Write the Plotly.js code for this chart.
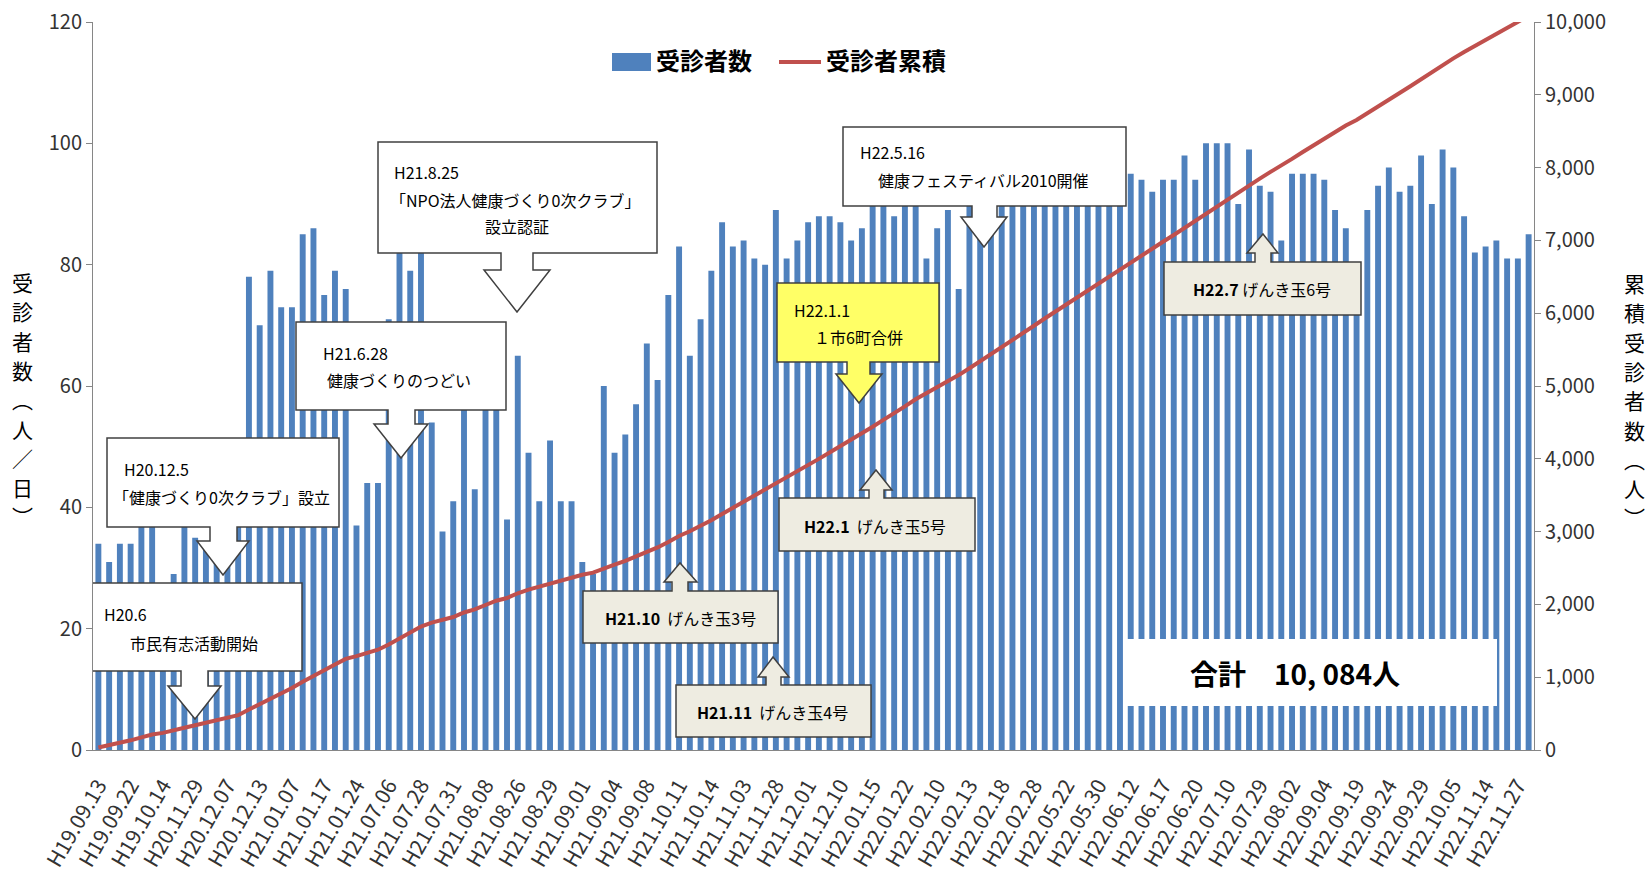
<!DOCTYPE html>
<html>
<head>
<meta charset="utf-8">
<script src="https://cdn.plot.ly/plotly-3.0.1.min.js"></script>
<style>
  html, body { margin: 0; padding: 0; background: #fff; }
  #chart { width: 1648px; height: 876px; }
</style>
</head>
<body>
<div id="chart"></div>
<script>
// ---- data ----
const tickLabels = [
  "H19.09.13","H19.09.22","H19.10.14","H20.11.29","H20.12.07","H20.12.13",
  "H21.01.07","H21.01.17","H21.01.24","H21.07.06","H21.07.28","H21.07.31",
  "H21.08.08","H21.08.26","H21.08.29","H21.09.01","H21.09.04","H21.09.08",
  "H21.10.11","H21.10.14","H21.11.03","H21.11.28","H21.12.01","H21.12.10",
  "H22.01.15","H22.01.22","H22.02.10","H22.02.13","H22.02.18","H22.02.28",
  "H22.05.22","H22.05.30","H22.06.12","H22.06.17","H22.06.20","H22.07.10",
  "H22.07.29","H22.08.02","H22.09.04","H22.09.19","H22.09.24","H22.09.29",
  "H22.10.05","H22.11.14","H22.11.27"
];

// 受診者数 (人/日), one value per session day
const visitors = [
  34,31,34,34,40,40,22,29,42,35,34,33,32,38,
  78,70,79,73,73,85,86,75,79,76,
  37,44,44,71,85,79,84,
  54,36,41,62,43,60,58,38,65,49,41,51,41,41,31,
  29,60,49,52,57,67,61,75,83,65,71,79,87,83,
  84,81,80,89,81,84,87,88,88,87,
  84,86,96,95,88,97,98,81,86,89,76,94,95,96,98,97,99,98,100,97,96,98,99,97,95,97,
  95,94,92,94,94,98,94,100,100,100,90,99,93,92,84,95,95,95,94,89,86,75,89,93,96,92,93,98,90,99,96,88,82,83,84,81,81,85
];

// 受診者累積 (人)
const cumulative = [
  34,65,99,133,173,213,235,264,306,341,375,408,440,478,
  556,626,705,778,851,936,1022,1097,1176,1252,
  1289,1333,1377,1448,1533,1612,1696,
  1750,1786,1827,1889,1932,1992,2050,2088,2153,2202,2243,2294,2335,2376,2407,
  2436,2496,2545,2597,2654,2721,2782,2857,2940,3005,3076,3155,3242,3325,
  3409,3490,3570,3659,3740,3824,3911,3999,4087,4174,
  4258,4344,4440,4535,4623,4720,4818,4899,4985,5074,5150,5244,5339,5435,5533,5630,5729,5827,5927,6024,6120,6218,6317,6414,6509,6606,
  6701,6795,6887,6981,7075,7173,7267,7367,7467,7567,7657,7756,7849,7941,8025,8120,8215,8310,8404,8493,8579,8654,8743,8836,8932,9024,9117,9215,9305,9404,9500,9588,9670,9753,9837,9918,9999,10084
];

const totalText = "合計　10, 084人";
const leftTitleChars = ["受","診","者","数","︵","人","／","日","︶"];
const rightTitleChars = ["累","積","受","診","者","数","︵","人","︶"];

// ---- layout helpers (pixel -> data) ----
const PL = 93, PR = 1534, PT = 22, PB = 750;
const N = visitors.length;
const xIdx = visitors.map((v, i) => i);
const tickPos = tickLabels.map((t, k) => 3 * k);
function dx(px) { return -0.5 + (px - PL) / (PR - PL) * N; }
function dy(py) { return (PB - py) / (PB - PT) * 120; }
function px2paperX(px) { return (px - PL) / (PR - PL); }
function px2paperY(py) { return (PB - py) / (PB - PT); }

const JP = '"Noto Sans CJK JP", "Noto Sans", sans-serif';

// callout boxes (pixel geometry)
const callouts = [
  {dir:'down', fill:'#FFFFFF', box:[87,583,302,671], stem:[181,208], headY:686, head:[168,221], tip:[195,719],
   lines:[['H20.6',102,614,'left'],['市民有志活動開始',194,643,'center']]},
  {dir:'down', fill:'#FFFFFF', box:[107,438,339,527], stem:[210,237], headY:541, head:[197,249], tip:[223,575],
   lines:[['H20.12.5',122,469,'left'],['「健康づくり0次クラブ」設立',221,497,'center']]},
  {dir:'down', fill:'#FFFFFF', box:[296,322,506,410], stem:[388,415], headY:424, head:[374,428], tip:[401,458],
   lines:[['H21.6.28',321,353,'left'],['健康づくりのつどい',399,380,'center']]},
  {dir:'down', fill:'#FFFFFF', box:[378,142,657,253], stem:[501,533], headY:270, head:[484,550], tip:[517,312],
   lines:[['H21.8.25',392,172,'left'],['「NPO法人健康づくり0次クラブ」',515,200,'center'],['設立認証',517,226,'center']]},
  {dir:'down', fill:'#FFFF66', box:[777,283,939,362], stem:[847,870], headY:374, head:[836,882], tip:[859,403],
   lines:[['H22.1.1',792,310,'left'],['１市6町合併',858,337,'center']]},
  {dir:'down', fill:'#FFFFFF', box:[843,127,1126,206], stem:[972,997], headY:217, head:[961,1007], tip:[984,247],
   lines:[['H22.5.16',858,152,'left'],['健康フェスティバル2010開催',983,180,'center']]},
  {dir:'up', fill:'#EEECE1', box:[583,591,778,643], stem:[672,688], headY:582, head:[664,697], tip:[680,563],
   lines:[['<b>H21.10</b>\u00a0\u00a0げんき玉3号',680,618,'center']]},
  {dir:'up', fill:'#EEECE1', box:[676,685,871,737], stem:[766,781], headY:677, head:[758,789], tip:[773,657],
   lines:[['<b>H21.11</b>\u00a0\u00a0げんき玉4号',772,712,'center']]},
  {dir:'up', fill:'#EEECE1', box:[779,498,975,551], stem:[869,884], headY:490, head:[860,892], tip:[876,470],
   lines:[['<b>H22.1</b>\u00a0\u00a0げんき玉5号',875,526,'center']]},
  {dir:'up', fill:'#EEECE1', box:[1164,262,1361,315], stem:[1255,1271], headY:253, head:[1247,1278], tip:[1263,234],
   lines:[['<b>H22.7</b>\u00a0げんき玉6号',1262,289,'center']]}
];

function pathFrom(pts) {
  return 'M ' + pts.map(p => dx(p[0]).toFixed(4) + ',' + dy(p[1]).toFixed(4)).join(' L ') + ' Z';
}

const shapes = [];
const annotations = [];

callouts.forEach(c => {
  const [x0, y0, x1, y1] = c.box;
  let pts;
  if (c.dir === 'down') {
    pts = [[x0,y0],[x1,y0],[x1,y1],[c.stem[1],y1],[c.stem[1],c.headY],[c.head[1],c.headY],
           c.tip,[c.head[0],c.headY],[c.stem[0],c.headY],[c.stem[0],y1],[x0,y1]];
  } else {
    pts = [[x0,y0],[c.stem[0],y0],[c.stem[0],c.headY],[c.head[0],c.headY],c.tip,
           [c.head[1],c.headY],[c.stem[1],c.headY],[c.stem[1],y0],[x1,y0],[x1,y1],[x0,y1]];
  }
  shapes.push({type:'path', xref:'x', yref:'y', layer:'above', path:pathFrom(pts),
               fillcolor:c.fill, line:{color:'#404040', width:1.5}});
  c.lines.forEach(l => {
    annotations.push({xref:'x', yref:'y', x:dx(l[1]), y:dy(l[2]), text:l[0], showarrow:false,
      xanchor:l[3], yanchor:'middle', font:{family:JP, size:16, color:'#000'}});
  });
});

// total box
shapes.push({type:'rect', xref:'x', yref:'y', layer:'above',
  x0:dx(1124), x1:dx(1497), y0:dy(706), y1:dy(639), fillcolor:'#FFFFFF', line:{width:0}});
annotations.push({xref:'x', yref:'y', x:dx(1295), y:dy(673), text:'<b>' + totalText + '</b>', showarrow:false,
  xanchor:'center', yanchor:'middle', font:{family:JP, size:28, color:'#000'}});

// custom legend
shapes.push({type:'rect', xref:'paper', yref:'paper', layer:'above',
  x0:px2paperX(612), x1:px2paperX(651), y0:px2paperY(71), y1:px2paperY(53), fillcolor:'#4F81BD', line:{width:0}});
shapes.push({type:'line', xref:'paper', yref:'paper', layer:'above',
  x0:px2paperX(779), x1:px2paperX(821), y0:px2paperY(62), y1:px2paperY(62), line:{color:'#C0504D', width:4}});
annotations.push({xref:'paper', yref:'paper', x:px2paperX(654), y:px2paperY(59), text:'<b>受診者数</b>',
  showarrow:false, xanchor:'left', yanchor:'middle', font:{family:JP, size:24, color:'#000'}});
annotations.push({xref:'paper', yref:'paper', x:px2paperX(824), y:px2paperY(59), text:'<b>受診者累積</b>',
  showarrow:false, xanchor:'left', yanchor:'middle', font:{family:JP, size:24, color:'#000'}});

// vertical axis titles (upright stacked characters, one per line position)
const titlePitch = 29.3;
leftTitleChars.forEach((ch, k) => {
  annotations.push({xref:'paper', yref:'paper', x:px2paperX(22), y:px2paperY(282 + k * titlePitch),
    text:ch, showarrow:false, xanchor:'center', yanchor:'middle', font:{family:JP, size:21, color:'#000'}});
});
rightTitleChars.forEach((ch, k) => {
  annotations.push({xref:'paper', yref:'paper', x:px2paperX(1634), y:px2paperY(283 + k * titlePitch),
    text:ch, showarrow:false, xanchor:'center', yanchor:'middle', font:{family:JP, size:21, color:'#000'}});
});

const traces = [
  {type:'bar', x:xIdx, y:visitors, name:'受診者数', marker:{color:'#4F81BD'}, hoverinfo:'skip'},
  {type:'scatter', mode:'lines', x:xIdx, y:cumulative, yaxis:'y2', name:'受診者累積',
   line:{color:'#C0504D', width:4}, hoverinfo:'skip'}
];

const axisCommon = {showgrid:false, zeroline:false, showline:true, linecolor:'#868686', linewidth:1,
  tickcolor:'#868686', automargin:false, fixedrange:true};

const layout = {
  width:1648, height:876,
  margin:{l:PL, r:1648-PR, t:PT, b:876-PB, pad:0},
  paper_bgcolor:'#FFFFFF', plot_bgcolor:'#FFFFFF',
  showlegend:false,
  bargap:0.45,
  xaxis:Object.assign({}, axisCommon, {range:[-0.5, N-0.5], tickmode:'array', tickvals:tickPos, ticktext:tickLabels,
    tickangle:-60, ticks:'', ticklabelstandoff:14, tickfont:{family:JP, size:21, color:'#333'}}),
  yaxis:Object.assign({}, axisCommon, {range:[0,120], tick0:0, dtick:20, ticks:'outside', ticklen:6,
    tickfont:{family:JP, size:20, color:'#333'}}),
  yaxis2:Object.assign({}, axisCommon, {range:[0,10000], tick0:0, dtick:1000, overlaying:'y', side:'right',
    ticks:'outside', ticklen:6, tickformat:',d', tickfont:{family:JP, size:20, color:'#333'}}),
  shapes:shapes,
  annotations:annotations
};

Plotly.newPlot('chart', traces, layout, {displayModeBar:false, staticPlot:true});
</script>
</body>
</html>
